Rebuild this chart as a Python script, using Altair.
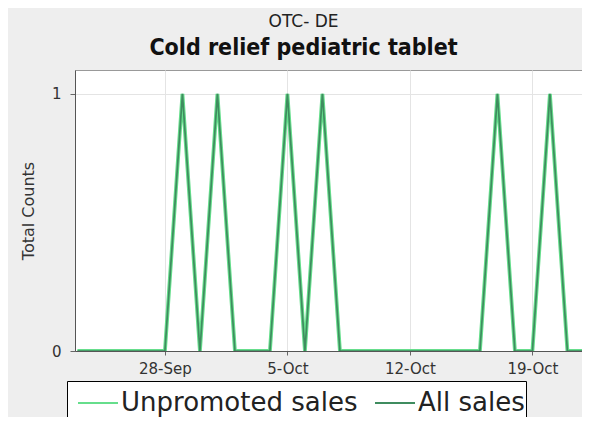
import altair as alt
import pandas as pd

dates = ["2009-09-23", "2009-09-24", "2009-09-25", "2009-09-26", "2009-09-27",
         "2009-09-28", "2009-09-29", "2009-09-30", "2009-10-01", "2009-10-02",
         "2009-10-03", "2009-10-04", "2009-10-05", "2009-10-06", "2009-10-07",
         "2009-10-08", "2009-10-09", "2009-10-10", "2009-10-11", "2009-10-12",
         "2009-10-13", "2009-10-14", "2009-10-15", "2009-10-16", "2009-10-17",
         "2009-10-18", "2009-10-19", "2009-10-20", "2009-10-21", "2009-10-22"]
unpromoted = [0, 0, 0, 0, 0, 0, 1, 0, 1, 0, 0, 0, 1, 0, 1,
              0, 0, 0, 0, 0, 0, 0, 0, 0, 1, 0, 0, 1, 0, 0]
all_sales = [0, 0, 0, 0, 0, 0, 1, 0, 1, 0, 0, 0, 1, 0, 1,
             0, 0, 0, 0, 0, 0, 0, 0, 0, 1, 0, 0, 1, 0, 0]
series_names = ["Unpromoted sales", "All sales"]
series_colors = ["#66de8c", "#3f8c5f"]
tick_dates = [(2009, 9, 28), (2009, 10, 5), (2009, 10, 12), (2009, 10, 19)]

df_u = pd.DataFrame({"date": dates, "count": unpromoted, "series": series_names[0]})
df_a = pd.DataFrame({"date": dates, "count": all_sales, "series": series_names[1]})

x_enc = alt.X(
    "date:T",
    scale=alt.Scale(
        type="utc",
        domain=[alt.DateTime(year=2009, month=9, date=22, hours=20, minutes=40, utc=True),
                alt.DateTime(year=2009, month=10, date=21, hours=20, utc=True)],
    ),
    axis=alt.Axis(
        title=None,
        values=[alt.DateTime(year=y, month=m, date=d, utc=True) for (y, m, d) in tick_dates],
        format="%-d-%b",
        labelFontSize=15,
        labelColor="#333333",
        labelFont="DejaVu Sans",
        tickSize=4,
        tickColor="#666666",
        domainColor="#555555",
        gridColor="#e4e4e4",
        labelPadding=6,
    ),
)
y_enc = alt.Y(
    "count:Q",
    scale=alt.Scale(domain=[0, 1.093], nice=False, zero=True),
    axis=alt.Axis(
        title="Total Counts",
        values=[0, 1],
        format="d",
        labelFontSize=15,
        labelColor="#333333",
        labelFont="DejaVu Sans",
        titleFont="DejaVu Sans",
        titleFontSize=16,
        titleFontWeight="normal",
        titleColor="#333333",
        titlePadding=15,
        tickSize=5,
        tickColor="#666666",
        domainColor="#555555",
        gridColor="#e4e4e4",
        labelPadding=9,
    ),
)
color_enc = alt.Color(
    "series:N",
    scale=alt.Scale(domain=series_names, range=series_colors),
    legend=alt.Legend(
        title=None,
        orient="none",
        legendX=-8,
        legendY=311,
        direction="horizontal",
        fillColor="white",
        strokeColor="black",
        padding=1,
        symbolType="stroke",
        symbolSize=1600,
        symbolStrokeWidth=2,
        symbolOffset=9,
        labelFontSize=26,
        labelFont="DejaVu Sans",
        labelColor="#222222",
        labelOffset=2,
        columnPadding=7,
        labelLimit=400,
    ),
)

line_u = alt.Chart(df_u).mark_line(strokeWidth=3.8, clip=True).encode(
    x=x_enc, y=y_enc, color=color_enc)
line_a = alt.Chart(df_a).mark_line(strokeWidth=1.7, clip=True).encode(
    x=x_enc, y=y_enc, color=color_enc)

chart = alt.layer(line_u, line_a).properties(
    width=507,
    height=281,
    autosize=alt.AutoSizeParams(type="none"),
    padding={"left": 67, "top": 62, "right": 0, "bottom": 66},
    background="#eeeeee",
    title=alt.TitleParams(
        text="OTC- DE",
        subtitle="Cold relief pediatric tablet",
        font="DejaVu Sans",
        fontSize=17,
        fontWeight="normal",
        color="#222222",
        subtitleFont="DejaVu Sans Condensed, Liberation Sans Narrow, DejaVu Sans",
        subtitleFontSize=23,
        subtitleFontWeight="bold",
        subtitleColor="#111111",
        subtitlePadding=6,
        anchor="middle",
        dx=-25,
        offset=9,
    ),
).configure_view(
    fill="white",
    stroke="#999999",
)

chart.save("out.html", embed_options={"renderer": "svg", "actions": False})
